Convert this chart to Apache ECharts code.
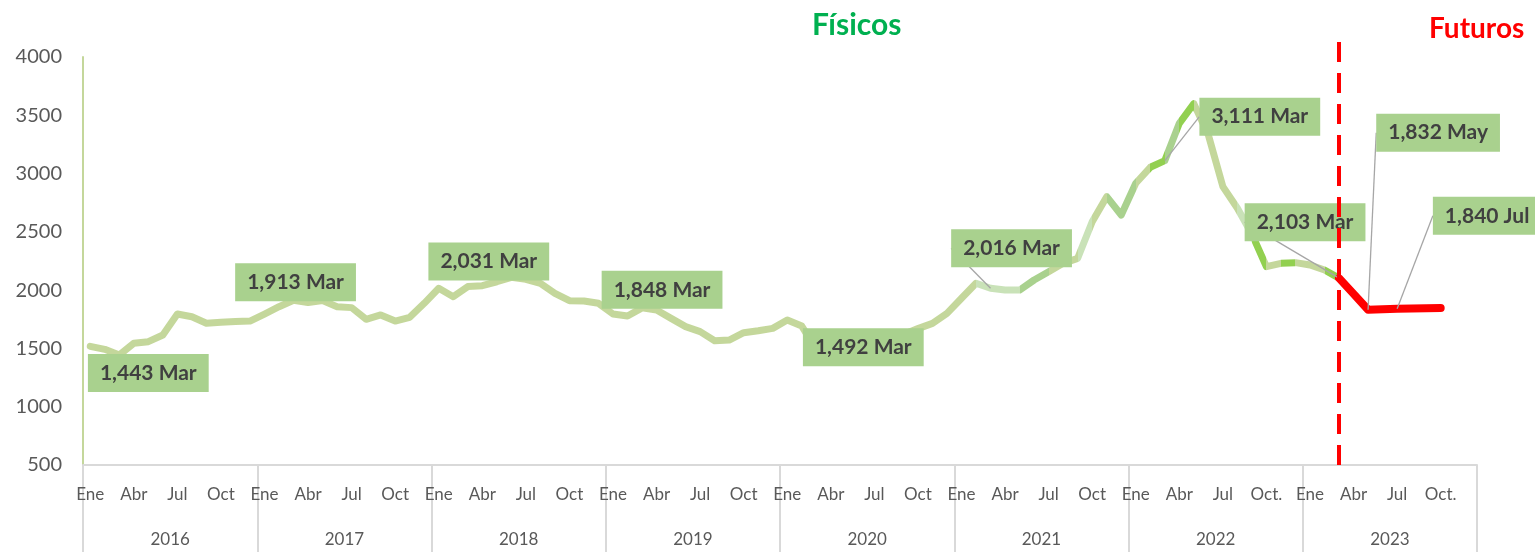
<!DOCTYPE html>
<html>
<head>
<meta charset="utf-8">
<script src="https://cdn.jsdelivr.net/npm/echarts@6/dist/echarts.min.js"></script>
<style>
html,body{margin:0;padding:0;background:#fff;}
#chart{width:1535px;height:552px;}
</style>
</head>
<body>
<div id="chart"></div>
<script>
// ---------- DATA ----------
const years = ['2016','2017','2018','2019','2020','2021','2022','2023'];
const monthNames = ['Ene','Feb','Mar','Abr','May','Jun','Jul','Ago','Sep','Oct','Nov','Dic'];
const quarterLabels = ['Ene','Abr','Jul','Oct'];
const quarterLabelsLate = ['Ene','Abr','Jul','Oct.'];
const lateYears = ['2022','2023'];
const yTicks = [500,1000,1500,2000,2500,3000,3500,4000];

// Físicos: Jan 2016 .. Mar 2023
const fisicos = [
  1518,1492,1443,1544,1558,1615,1795,1772,1716,1724,1730,1735,   // 2016
  1795,1858,1913,1893,1910,1858,1850,1750,1787,1735,1767,1887,   // 2017
  2016,1944,2031,2038,2072,2110,2093,2059,1973,1910,1907,1887,   // 2018
  1795,1778,1848,1830,1758,1687,1644,1566,1572,1635,1652,1672,   // 2019
  1744,1692,1492,1480,1500,1520,1550,1580,1620,1670,1715,1801,   // 2020
  1930,2059,2016,2001,2001,2087,2158,2230,2273,2587,2802,2645,   // 2021
  2917,3054,3111,3431,3600,3331,2888,2702,2480,2201,2230,2236,   // 2022
  2216,2173,2103                                                  // 2023
];
// Futuros: Mar 2023 .. Oct 2023
const futurosStart = 86;
const futuros = [2103,1968,1832,1836,1840,1842,1844,1846];

// Labelled points (category indexes)
const labelIdx = [2,14,26,38,50,62,74,86,88,90];

// ---------- LAYOUT / STYLE (not data) ----------
const labelOffsets = {2:[29,18],14:[2,-18],26:[21,-25],38:[20,-18],50:[47,-2],
  62:[21,-40],74:[95,-44],86:[-34,-56],88:[70,-177],90:[90,-93]};
const leaderIdx = [62,74,86,88,90];
const C_OLIVE='#C4D79B', C_PALE='#C9E2B8', C_MID='#A9D18E', C_BRIGHT='#92D050';
const segColors = {61:C_PALE,62:C_PALE,63:C_PALE,64:C_MID,65:C_MID,68:C_PALE,70:C_MID,71:C_MID,
  73:C_BRIGHT,74:C_MID,75:C_BRIGHT,79:C_PALE,80:C_BRIGHT,82:C_BRIGHT,85:C_BRIGHT};

// ---------- BUILD ----------
const categories = [];
years.forEach(y => monthNames.forEach((m,i) => categories.push(y + '-' + String(i+1).padStart(2,'0'))));
const futurosData = categories.map((c,i) => (i >= futurosStart && i < futurosStart + futuros.length) ? futuros[i - futurosStart] : null);
const allValues = categories.map((c,i) => i < fisicos.length ? fisicos[i] : futurosData[i]);
const labelData = categories.map((c,i) => labelIdx.indexOf(i) >= 0 ? {
  value: allValues[i],
  labelLine: {show: leaderIdx.indexOf(i) >= 0}
} : null);

function monthTickLabel(idx){
  const y = years[Math.floor(idx/12)];
  const q = (idx % 12) / 3;
  if (idx % 3 !== 0) return '';
  return (lateYears.indexOf(y) >= 0 ? quarterLabelsLate : quarterLabels)[q];
}

const pieces = [];
for (let i = 0; i < fisicos.length - 1; i++) {
  const p = {gte: i, color: segColors[i] || C_OLIVE};
  if (i === fisicos.length - 2) p.lte = i + 1; else p.lt = i + 1;
  pieces.push(p);
}

const FONT = 'Lato, "Open Sans", sans-serif';
const chart = echarts.init(document.getElementById('chart'), null, {renderer:'canvas'});
chart.setOption({
  animation: false,
  backgroundColor: '#ffffff',
  title: [
    {text:'Físicos', left:807, top:5, textStyle:{color:'#00B050', fontSize:30, fontWeight:'bold', fontFamily:FONT}},
    {text:'Futuros', left:1424, top:10, textStyle:{color:'#FF0000', fontSize:28, fontWeight:'bold', fontFamily:FONT}}
  ],
  grid: [
    {left:83, right:58, top:57, bottom:87},
    {left:83, right:58, top:37, bottom:87}
  ],
  xAxis: [
    {type:'category', gridIndex:0, data:categories, boundaryGap:true, position:'bottom',
     axisLine:{show:true, lineStyle:{color:'#D9D9D9', width:2}},
     axisTick:{show:false},
     axisLabel:{interval:2, margin:21, color:'#595959', fontSize:17, fontFamily:FONT,
       formatter:(v, idx) => monthTickLabel(idx)}},
    {type:'category', gridIndex:0, data:years, boundaryGap:true, position:'bottom',
     axisLine:{show:false},
     axisTick:{show:true, interval:0, length:87, lineStyle:{color:'#D9D9D9', width:2}},
     axisLabel:{interval:0, margin:66, color:'#595959', fontSize:17, fontFamily:FONT}},
    {type:'category', gridIndex:1, data:categories, boundaryGap:true, show:false}
  ],
  yAxis: [
    {type:'value', gridIndex:0, min:yTicks[0], max:yTicks[yTicks.length-1], interval:500,
     splitLine:{show:false},
     axisLine:{show:true, lineStyle:{color:C_OLIVE, width:2}},
     axisTick:{show:false},
     axisLabel:{margin:21, color:'#595959', fontSize:20, fontFamily:FONT, formatter:(v) => String(v)}},
    {type:'value', gridIndex:1, show:false, min:0, max:1}
  ],
  visualMap: {show:false, type:'piecewise', seriesIndex:0, dimension:0, pieces:pieces, outOfRange:{color:C_OLIVE}},
  series: [
    {name:'Físicos', type:'line', xAxisIndex:0, yAxisIndex:0, data:fisicos, showSymbol:false,
     lineStyle:{width:7, cap:'round', join:'round'}, z:2},
    {name:'Futuros', type:'line', xAxisIndex:0, yAxisIndex:0, data:futurosData, showSymbol:false,
     itemStyle:{color:'#FF0000'}, lineStyle:{width:8, color:'#FF0000', cap:'round', join:'round'}, z:3},
    {name:'labels', type:'scatter', xAxisIndex:0, yAxisIndex:0, data:labelData, symbolSize:0,
     itemStyle:{color:'rgba(0,0,0,0)', opacity:1}, z:4,
     label:{show:true, position:'inside', formatter:(p) => p.value.toLocaleString('en-US') + ' ' + monthNames[p.dataIndex % 12],
       fontFamily:FONT, fontSize:21, fontWeight:'bold', color:'#404040', backgroundColor:'#A9D18E',
       padding:[8,12,6,12], lineHeight:24},
     labelLine:{show:false, lineStyle:{color:'#A6A6A6', width:1.3}},
     labelLayout:(params) => {
       const o = labelOffsets[params.dataIndex];
       if (!o) return {};
       return {x: params.rect.x + params.rect.width/2 + o[0], y: params.rect.y + params.rect.height/2 + o[1], align:'center', verticalAlign:'middle'};
     }},
    {name:'divider', type:'line', xAxisIndex:2, yAxisIndex:1, data:[], z:10, silent:true,
     markLine:{silent:true, symbol:['none','none'], label:{show:false},
       lineStyle:{color:'#FF0000', width:4, type:[20,11]},
       data:[{xAxis:futurosStart}]}}
  ]
});
</script>
</body>
</html>
